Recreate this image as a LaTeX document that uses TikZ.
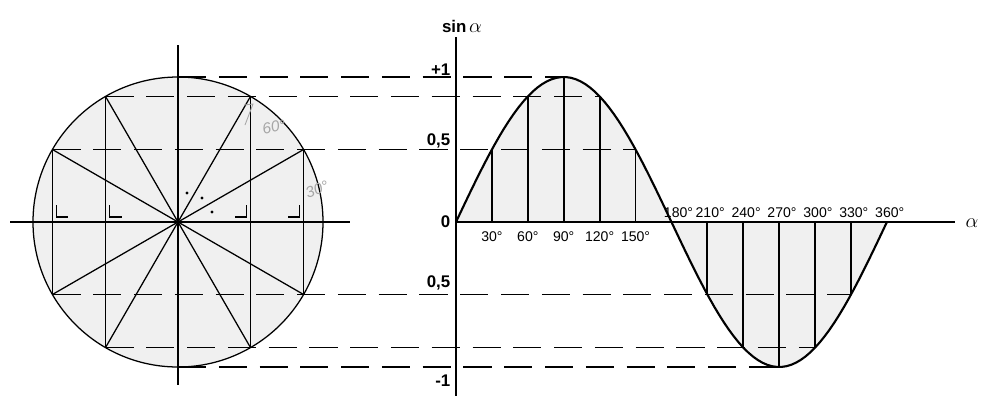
\documentclass[tikz,border=0pt]{standalone}
\usepackage{fontspec}
\setmainfont{Liberation Sans}
\begin{document}
\begin{tikzpicture}[x=0.025cm, y=-0.025cm,
  axis/.style={line width=1.2pt},
  ray/.style={line width=0.9pt},
  ord/.style={line width=1.3pt},
  proj/.style={line width=0.9pt, dash pattern=on 20pt off 9pt},
  deg/.style={font=\fontsize{10}{12}\selectfont, inner sep=1pt},
  val/.style={font=\fontsize{12}{14}\selectfont\bfseries, anchor=east, inner sep=1pt},
  hand/.style={gray!70, font=\itshape\fontsize{11}{13}\selectfont}]
  \useasboundingbox (0,0) rectangle (981,396);
  \def\R{145}
  \coordinate (M) at (178,222);
  \coordinate (O) at (456,222);
  \foreach \a in {0,30,...,360} {
    \coordinate (c\a) at ({178+\R*cos(\a)},{222-\R*sin(\a)});
    \coordinate (s\a) at ({456+1.197*\a},{222-\R*sin(\a)});
    \coordinate (f\a) at ({456+1.197*\a},222);
  }
  % unit circle
  \fill[gray!12] (M) circle[radius=\R];
  \fill[gray!12] (O) -- plot[domain=0:360, samples=91] ({456+1.197*\x},{222-\R*sin(\x)}) -- cycle;
  \foreach \a/\b in {30/210,60/240,120/300,150/330} \draw[ray] (c\a) -- (c\b);
  \foreach \a/\b in {30/330,60/300,120/240,150/210} \draw[ord] (c\a) -- (c\b);
  \draw[ray] (M) circle[radius=\R];
  \draw[axis] (10,222) -- (350,222);
  \draw[axis] (178,45) -- (178,385);
  \foreach \x/\d in {52.4/1,105.5/1,250.5/-1,303.6/-1}
    \draw[ray] ({\x+4*\d},205) |- ({\x+16*\d},217);
  \foreach \p in {(187,193),(202,198),(212,212)} \fill \p circle[radius=1.7];
  \draw[gray!70, line width=0.6pt] (244,105) -- (253,104) -- (245,125);
  \node[hand, rotate=12] at (274,127) {60°};
  \node[hand, rotate=20, inner sep=0pt] at (317,189) {30°};
  % projections
  \foreach \a/\b in {90/90,120/120,150/150,210/330,240/300,270/270}
    \draw[proj] (c\a) -- (s\b);
  % sine graph
  \draw[axis] (456,37) -- (456,396);
  \draw[axis] (O) -- (955,222);
  \foreach \a in {30,60,90,120,150,210,240,270,300,330} \draw[ord] (f\a) -- (s\a);
  \draw[line width=1.5pt] plot[domain=0:360, samples=91] ({456+1.197*\x},{222-\R*sin(\x)});
  \foreach \a in {30,60,90,120,150} \node[deg, below=6pt] at (f\a) {\a°};
  \node[deg, above=2pt, xshift=5pt] at (f180) {180°};
  \foreach \a in {210,240,270,300,330,360} \node[deg, above=2pt, xshift=2pt] at (f\a) {\a°};
  \node[val] at (452,70) {+1};
  \node[val] at (452,141) {0,5};
  \node[val] at (452,222) {0};
  \node[val] at (452,283) {0,5};
  \node[val] at (452,381) {-1};
  \node[font=\fontsize{12}{14}\selectfont\bfseries] at (462,26) {sin\,{\fontsize{14}{16}\selectfont$\alpha$}};
  \node at (972,223) {\fontsize{15}{17}\selectfont$\alpha$};
\end{tikzpicture}
\end{document}
